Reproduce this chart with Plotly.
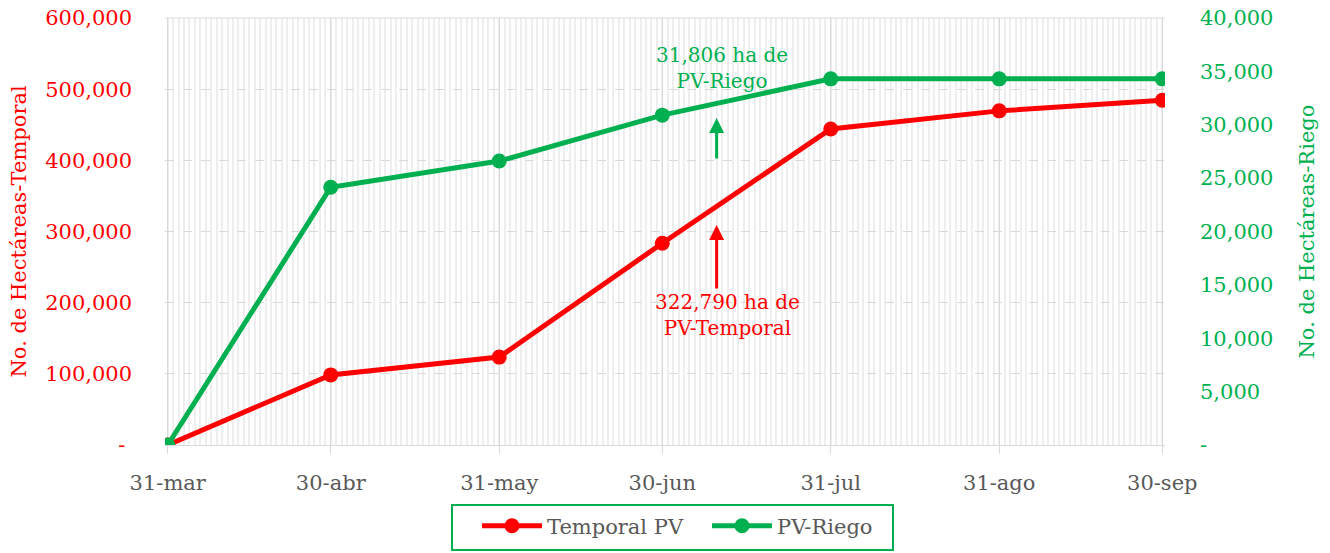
import plotly.graph_objects as go

dates = ["2023-03-31", "2023-04-30", "2023-05-31", "2023-06-30", "2023-07-31", "2023-08-31", "2023-09-30"]
date_labels = ["31-mar", "30-abr", "31-may", "30-jun", "31-jul", "31-ago", "30-sep"]
temporal = [0, 98500, 123500, 283500, 444000, 469500, 484500]
riego = [0, 24150, 26600, 30900, 34300, 34300, 34300]

left_ticks = [0, 100000, 200000, 300000, 400000, 500000, 600000]
left_text = ["- ", "100,000", "200,000", "300,000", "400,000", "500,000", "600,000"]
right_ticks = [0, 5000, 10000, 15000, 20000, 25000, 30000, 35000, 40000]
right_text = ["-", "5,000", "10,000", "15,000", "20,000", "25,000", "30,000", "35,000", "40,000"]

RED = "#ff0000"
GREEN = "#00b050"
GRAY = "#595959"
FONT = "DejaVu Serif, serif"
FS = 21
FA = 20

fig = go.Figure()
fig.add_trace(go.Scatter(x=dates, y=temporal, name="Temporal PV", mode="lines+markers",
                         line=dict(color=RED, width=5), marker=dict(size=15, color=RED)))
fig.add_trace(go.Scatter(x=dates, y=riego, name="PV-Riego", mode="lines+markers", yaxis="y2",
                         line=dict(color=GREEN, width=5), marker=dict(size=15, color=GREEN)))

fig.update_layout(
    width=1330, height=553,
    margin=dict(l=165, r=165, t=18, b=108, autoexpand=False),
    paper_bgcolor="white", plot_bgcolor="white",
    font=dict(family=FONT, size=FS, color=GRAY),
    showlegend=True,
    legend=dict(orientation="h", x=0.312, xanchor="left", y=-0.142, yanchor="top",
                borderwidth=0, bgcolor="rgba(0,0,0,0)", font=dict(size=FS, color=GRAY),
                itemwidth=60, entrywidth=155, tracegroupgap=0),
    xaxis=dict(type="date", range=["2023-03-30 12:00", "2023-09-30 12:00"], automargin=False,
               tickmode="array", tickvals=dates, ticktext=date_labels,
               showgrid=True, gridcolor="#d9d9d9", gridwidth=1,
               ticks="outside", ticklen=8, tickcolor="#d9d9d9",
               showline=True, linecolor="#d9d9d9", linewidth=1,
               tickfont=dict(size=FS, color=GRAY), ticklabelstandoff=11,
               minor=dict(dtick=86400000, tick0="2023-03-31", showgrid=True,
                          gridcolor="#eeeeee", gridwidth=1.5)),
    yaxis=dict(range=[0, 600000], tickmode="array", tickvals=left_ticks, ticktext=left_text,
               automargin=False,
               showgrid=True, gridcolor="#d9d9d9", griddash="dash", gridwidth=1,
               zeroline=False, tickfont=dict(size=FS, color=RED), ticklabelstandoff=32,
               showline=False),
    yaxis2=dict(range=[0, 40000], overlaying="y", side="right", tickmode="array", automargin=False,
                tickvals=right_ticks, ticktext=right_text, showgrid=False, zeroline=False,
                tickfont=dict(size=FS, color=GREEN), ticklabelstandoff=34),
)

# legend frame
fig.add_shape(type="rect", xref="paper", yref="paper", x0=0.287, x1=0.728, y0=-0.246, y1=-0.1405,
              line=dict(color=GREEN, width=2), fillcolor="rgba(0,0,0,0)")

# axis titles
fig.add_annotation(x=-0.147, y=0.5, xref="paper", yref="paper", text="No. de Hectáreas-Temporal",
                   textangle=-90, showarrow=False, xanchor="center", yanchor="middle",
                   font=dict(size=FS, color=RED))
fig.add_annotation(x=1.141, y=0.5, xref="paper", yref="paper", text="No. de Hectáreas-Riego",
                   textangle=-90, showarrow=False, xanchor="center", yanchor="middle",
                   font=dict(size=FS, color=GREEN))

# Plot area top border
fig.add_shape(type="line", xref="paper", yref="paper", x0=0, x1=1, y0=1, y1=1,
              line=dict(color="#d9d9d9", width=1))

fig.add_annotation(x="2023-07-10", y=30630, xref="x", yref="y2", ax=0, ay=42, text="",
                   showarrow=True, arrowhead=2, arrowsize=1, arrowwidth=3, arrowcolor=GREEN)
fig.add_annotation(x="2023-07-11", y=32800, xref="x", yref="y2", text="31,806 ha de<br>PV-Riego",
                   showarrow=False, yanchor="bottom", font=dict(size=FA, color=GREEN))
fig.add_annotation(x="2023-07-10", y=309000, xref="x", yref="y", ax=0, ay=65, text="",
                   showarrow=True, arrowhead=2, arrowsize=1, arrowwidth=3, arrowcolor=RED)
fig.add_annotation(x="2023-07-12", y=221000, xref="x", yref="y", text="322,790 ha de<br>PV-Temporal",
                   showarrow=False, yanchor="top", font=dict(size=FA, color=RED))

fig.write_html("out.html", config={"displayModeBar": False},
               post_script="document.body.style.margin='0';")
